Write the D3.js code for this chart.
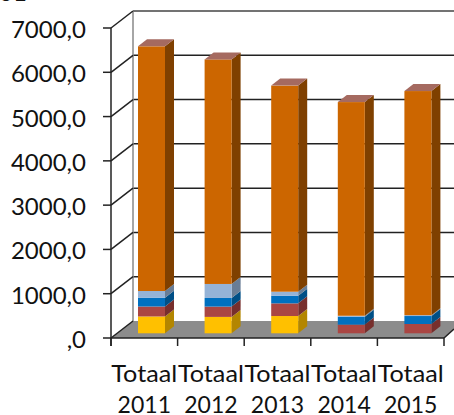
<!DOCTYPE html>
<html><head><meta charset="utf-8">
<style>html,body{margin:0;padding:0;background:#fff}svg{display:block}text{font-family:Lato,"Open Sans",sans-serif;fill:#111}</style>
<script src="https://cdnjs.cloudflare.com/ajax/libs/d3/7.8.5/d3.min.js"></script>
</head><body><div id="c"></div>
<script>
const categories=["Totaal 2011","Totaal 2012","Totaal 2013","Totaal 2014","Totaal 2015"];
const seriesNames=["geel","rood","blauw","lichtblauw","oranje"];
const geel=[380,370,390,0,0];
const rood=[225,233,286,196,210];
const blauw=[200,195,173,180,180];
const lichtblauw=[150,316,90,20,20];
const oranje=[5525,5071,4654,4825,5060];
const yTicks=[0,1000,2000,3000,4000,5000,6000,7000];
const tickLabels=[",0","1000,0","2000,0","3000,0","4000,0","5000,0","6000,0","7000,0"];
const fronts=["#ffc000","#aa4643","#0070c0","#95b3d7","#cc6600"];
const sides=["#b38600","#772f2d","#004f86","#687d96","#7f4000"];
const tops=["#ffd24d","#b56a68","#4d9ad3","#b5cae3","#a56a60"];

const W=454,H=415,dx=22,dy=17,bdx=9,bdy=7;
const svg=d3.select("#c").append("svg").attr("width",W).attr("height",H);
const x=d3.scaleBand().domain(categories).range([111,444]).paddingInner(0).paddingOuter(0);
const y=d3.scaleLinear().domain([0,7000]).range([338,28]);
const x0=x.range()[0],x1=x.range()[1];
const bw=27, barOffY=-4.7, barOffX=27;

// floor
svg.append("polygon").attr("fill","#8c8c8c")
 .attr("points",[[x0,y(0)],[x0+dx,y(0)-dy],[W,y(0)-dy],[W,y(0)-9],[x1,y(0)]].join(" "));
// wall gridlines
svg.selectAll("line.g").data(yTicks.slice(1,-1)).join("line").attr("x1",x0+dx).attr("x2",W)
 .attr("y1",d=>y(d)-dy).attr("y2",d=>y(d)-dy).attr("stroke","#222").attr("stroke-width",1.5);
svg.append("line").attr("x1",x0+dx).attr("x2",W).attr("y1",y(7000)-dy).attr("y2",y(7000)-dy).attr("stroke","#444").attr("stroke-width",1.5);
svg.append("line").attr("x1",x0+dx).attr("x2",x0+dx).attr("y1",y(7000)-dy).attr("y2",y(0)-dy).attr("stroke","#888").attr("stroke-width",1.5);
// side wall lines
svg.selectAll("line.s").data(yTicks).join("line").attr("x1",x0).attr("x2",x0+dx)
 .attr("y1",d=>y(d)).attr("y2",d=>y(d)-dy).attr("stroke","#222").attr("stroke-width",1.5);
// axes
svg.append("line").attr("x1",x0).attr("x2",x0).attr("y1",y(7000)).attr("y2",y(0)+8).attr("stroke","#222").attr("stroke-width",1.5);
svg.append("line").attr("x1",x0).attr("x2",x1).attr("y1",y(0)).attr("y2",y(0)).attr("stroke","#222").attr("stroke-width",1.5);
svg.append("line").attr("x1",x1).attr("x2",W).attr("y1",y(0)).attr("y2",y(0)-9).attr("stroke","#222").attr("stroke-width",1.5);
svg.selectAll("line.t").data(yTicks).join("line").attr("x1",x0-8).attr("x2",x0)
 .attr("y1",d=>y(d)).attr("y2",d=>y(d)).attr("stroke","#222").attr("stroke-width",1.5);
svg.selectAll("line.xt").data(categories.map(c=>x(c)).concat([x1])).join("line").attr("x1",d=>d).attr("x2",d=>d)
 .attr("y1",y(0)).attr("y2",y(0)+8).attr("stroke","#222").attr("stroke-width",1.5);
// tick labels
svg.selectAll("text.yl").data(yTicks).join("text").attr("x",86).attr("text-anchor","end")
 .attr("y",d=>y(d)+10).attr("font-size",24).text((d,i)=>tickLabels[i]);
categories.forEach(c=>{
  const [a,b]=c.split(" ");
  const cx=x(c)+x.bandwidth()/2;
  svg.append("text").attr("x",cx).attr("y",381.5).attr("text-anchor","middle").attr("font-size",23)
    .attr("textLength",66).attr("lengthAdjust","spacingAndGlyphs").text(a);
  svg.append("text").attr("x",cx).attr("y",413).attr("text-anchor","middle").attr("font-size",23).text(b);
});
// bars
const series=[geel,rood,blauw,lichtblauw,oranje];
const stack=d3.stack().keys(d3.range(5)).value((d,k)=>series[k][d])(d3.range(5));
stack.forEach((layer,k)=>{
  layer.forEach((s,i)=>{
    if(s[1]===s[0])return;
    const L=x(categories[i])+barOffX,R=L+bw,T=y(s[1])+barOffY,B=y(s[0])+barOffY;
    const g=svg.append("g");
    g.append("polygon").attr("fill",sides[k]).attr("points",[[R,T],[R+bdx,T-bdy],[R+bdx,B-bdy],[R,B]].join(" "));
    g.append("rect").attr("x",L).attr("y",T).attr("width",bw).attr("height",B-T).attr("fill",fronts[k]);
    if(k===4) g.append("polygon").attr("fill",tops[k]).attr("points",[[L,T],[L+bdx,T-bdy],[R+bdx,T-bdy],[R,T]].join(" "));
  });
});
// cropped title remnant
svg.append("text").attr("x",-1).attr("y",1).attr("font-size",24).text("01");
</script></body></html>
